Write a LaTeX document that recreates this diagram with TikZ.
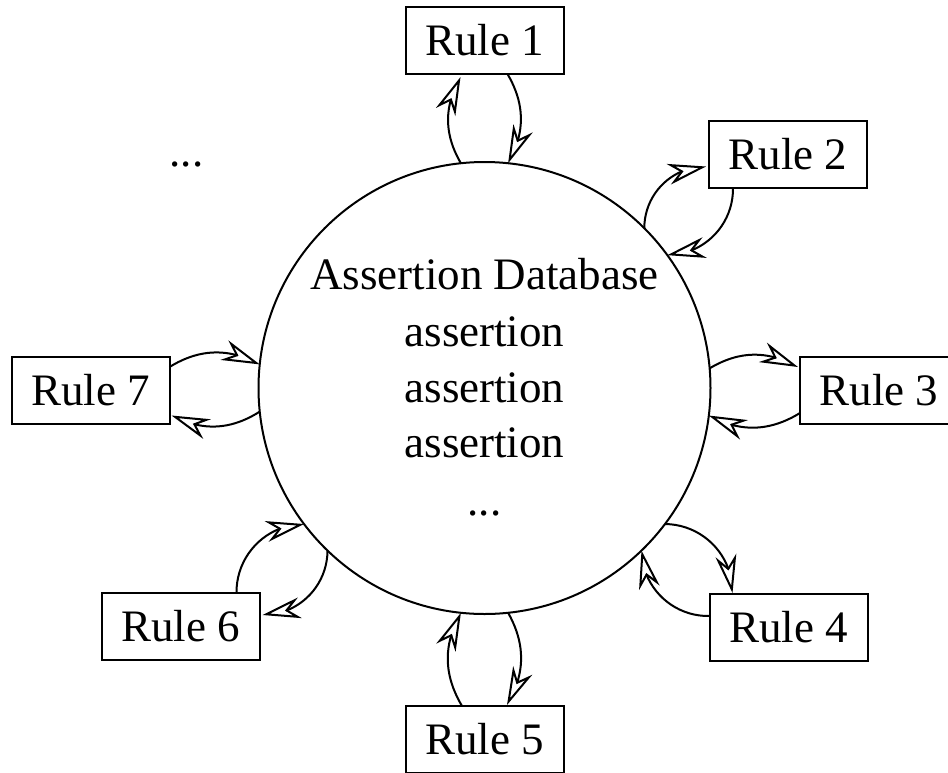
\documentclass[tikz,border=0pt]{standalone}
\usepackage{fontspec}
\setmainfont{Liberation Serif}
\usetikzlibrary{arrows.meta,bending}
\tikzset{bigtip/.tip={Stealth[open,length=38pt,width=21pt,inset=12pt]}}
\begin{document}
\begin{tikzpicture}[x=1pt,y=-1pt,
  every node/.style={font=\fontsize{45}{54}\selectfont},
  rulebox/.style={draw,line width=2pt,minimum width=158pt,minimum height=67pt,inner sep=0pt,outer sep=0pt},
  flow/.style={line width=2pt,-bigtip},
  txt/.style={anchor=base,inner sep=0pt}]
\clip (0,0) rectangle (948,772);
\useasboundingbox (0,0) rectangle (948,772);
\node[draw,circle,line width=2pt,minimum size=452pt,inner sep=0pt,outer sep=0pt] (db) at (484.5,388) {};
\node[txt] (t0) at (484.5,289) {Assertion Database};
\node[txt] (t1) at (484.5,346) {assertion};
\node[txt] (t2) at (484.5,402) {assertion};
\node[txt] (t3) at (484.5,457) {assertion};
\node[txt] (t4) at (484.5,515) {...};
\node[txt] (tl) at (186.5,166) {...};

\node[rulebox] (r1) at (484.5,40.5) {Rule 1};
\node[rulebox] (r2) at (788,154.5) {Rule 2};
\node[rulebox] (r3) at (879,390.5) {Rule 3};
\node[rulebox] (r4) at (788.5,627.5) {Rule 4};
\node[rulebox] (r5) at (484.5,739.5) {Rule 5};
\node[rulebox] (r6) at (180.5,626.5) {Rule 6};
\node[rulebox] (r7) at (90.5,390.5) {Rule 7};

% Rule 1
\draw[flow] (db.96) to[bend left=30] ([xshift=-24pt,yshift=-3pt]r1.south);
\draw[flow] ([xshift=23pt]r1.south) to[bend left=30] (db.84);
% Rule 2
\draw[flow] (db.45) to[bend left=45] ([xshift=-3pt,yshift=-12pt]r2.west);
\draw[flow] ([xshift=-55pt]r2.south) to[bend left=45] (db.36);
% Rule 3
\draw[flow] (db.5) to[bend left=30] ([xshift=-2pt,yshift=23.5pt]r3.west);
\draw[flow] ([yshift=-22.5pt]r3.west) to[bend left=30] (db.-7);
% Rule 4
\draw[flow] (db.-37) to[bend left=45] ([xshift=-56pt,yshift=1pt]r4.north);
\draw[flow] ([yshift=11.5pt]r4.west) to[bend left=45] (db.-46);
% Rule 5
\draw[flow] ([xshift=-22.5pt]r5.north) to[bend left=30] (db.-96);
\draw[flow] (db.-84) to[bend left=30] ([xshift=22.5pt,yshift=1pt]r5.north);
% Rule 6
\draw[flow] ([xshift=56pt]r6.north) to[bend left=45] (db.217);
\draw[flow] (db.226) to[bend left=45] ([xshift=3pt,yshift=11.5pt]r6.east);
% Rule 7
\draw[flow] ([yshift=23.5pt]r7.east) to[bend left=30] (db.174);
\draw[flow] (db.186) to[bend left=30] ([xshift=2pt,yshift=-25pt]r7.east);
\end{tikzpicture}
\end{document}
